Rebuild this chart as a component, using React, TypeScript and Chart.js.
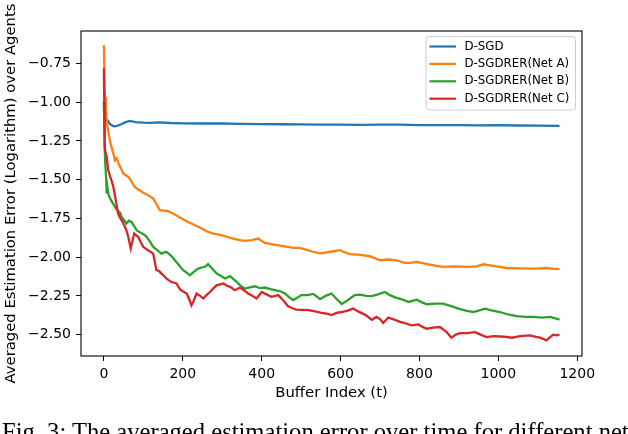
import { useEffect, useRef } from "react";
import { Chart, registerables } from "chart.js";

Chart.register(...registerables);

// Series names and colours (matplotlib tab10 palette)
const SERIES_LABELS = ["D-SGD", "D-SGDRER(Net A)", "D-SGDRER(Net B)", "D-SGDRER(Net C)"];
const SERIES_COLORS = ["#1f77b4", "#ff7f0e", "#2ca02c", "#d62728"];

// Axis ticks
const X_TICKS = [0, 200, 400, 600, 800, 1000, 1200];
const Y_TICKS = [-0.75, -1.0, -1.25, -1.5, -1.75, -2.0, -2.25, -2.5];

// [buffer index, averaged log estimation error]
const D_SGD: [number, number][] = [
  [0, -1.0], [3, -1.1], [6, -1.12], [10, -1.118], [15, -1.14], [22, -1.152], [28, -1.155],
  [36, -1.15], [45, -1.14], [55, -1.128], [66, -1.12], [80, -1.128], [100, -1.132], [117, -1.133],
  [140, -1.13], [170, -1.134], [200, -1.136], [250, -1.137], [300, -1.137], [350, -1.14],
  [400, -1.141], [450, -1.142], [500, -1.143], [550, -1.144], [600, -1.145], [650, -1.146],
  [700, -1.145], [750, -1.145], [800, -1.147], [850, -1.148], [900, -1.148], [950, -1.149],
  [1000, -1.148], [1050, -1.15], [1100, -1.151], [1155, -1.152],
];

const NET_A: [number, number][] = [
  [0, -0.632], [2, -0.9], [3, -0.966], [5, -1.06], [9, -1.159], [14, -1.23], [19, -1.288],
  [24, -1.33], [28, -1.374], [32, -1.361], [38, -1.4], [44, -1.43], [49, -1.46], [55, -1.47],
  [62, -1.482], [70, -1.51], [76, -1.54], [83, -1.557], [92, -1.57], [100, -1.585], [112, -1.6],
  [125, -1.622], [134, -1.66], [142, -1.697], [152, -1.7], [163, -1.703], [180, -1.725],
  [197, -1.75], [215, -1.775], [231, -1.794], [248, -1.815], [264, -1.837], [280, -1.85],
  [298, -1.858], [307, -1.865], [328, -1.88], [345, -1.89], [357, -1.895], [375, -1.89],
  [391, -1.88], [408, -1.908], [435, -1.92], [459, -1.93], [480, -1.94], [497, -1.94],
  [510, -1.95], [530, -1.965], [548, -1.976], [575, -1.965], [598, -1.955], [612, -1.97],
  [624, -1.98], [650, -1.985], [674, -1.994], [700, -2.02], [720, -2.015], [742, -2.02],
  [763, -2.037], [776, -2.037], [793, -2.03], [820, -2.045], [840, -2.055], [860, -2.063],
  [890, -2.06], [920, -2.063], [945, -2.06], [962, -2.046], [990, -2.058], [1021, -2.07],
  [1050, -2.072], [1089, -2.074], [1105, -2.072], [1122, -2.07], [1140, -2.075], [1155, -2.076],
];

const NET_B: [number, number][] = [
  [0, -1.0], [2, -1.3], [4, -1.417], [6, -1.5], [7, -1.589], [9, -1.55], [12, -1.6], [16, -1.622],
  [20, -1.64], [28, -1.676], [35, -1.7], [41, -1.714], [45, -1.74], [51, -1.76], [57, -1.783],
  [63, -1.765], [70, -1.773], [77, -1.8], [83, -1.826], [92, -1.84], [104, -1.858], [110, -1.875],
  [117, -1.9], [125, -1.934], [135, -1.955], [146, -1.977], [152, -1.97], [159, -1.966],
  [170, -1.99], [180, -2.02], [190, -2.05], [201, -2.084], [210, -2.1], [218, -2.117],
  [228, -2.095], [239, -2.074], [250, -2.065], [258, -2.06], [264, -2.045], [275, -2.075],
  [286, -2.106], [296, -2.12], [307, -2.138], [320, -2.123], [332, -2.149], [345, -2.18],
  [357, -2.203], [370, -2.195], [383, -2.188], [395, -2.2], [408, -2.196], [420, -2.205],
  [434, -2.213], [447, -2.22], [459, -2.235], [470, -2.26], [480, -2.277], [490, -2.262],
  [501, -2.245], [515, -2.245], [531, -2.237], [548, -2.271], [562, -2.25], [577, -2.235],
  [590, -2.27], [603, -2.302], [614, -2.285], [624, -2.267], [636, -2.245], [650, -2.242],
  [665, -2.25], [679, -2.252], [695, -2.24], [712, -2.225], [725, -2.245], [740, -2.261],
  [755, -2.272], [772, -2.289], [793, -2.274], [805, -2.29], [818, -2.304], [840, -2.3],
  [860, -2.3], [872, -2.31], [886, -2.321], [903, -2.335], [920, -2.347], [936, -2.354],
  [950, -2.345], [966, -2.332], [985, -2.345], [1004, -2.354], [1025, -2.37], [1046, -2.381],
  [1068, -2.385], [1089, -2.386], [1110, -2.39], [1131, -2.386], [1145, -2.395], [1155, -2.403],
];

const NET_C: [number, number][] = [
  [0, -0.78], [1, -1.0], [2, -1.25], [3, -1.31], [7, -1.35], [11, -1.439], [16, -1.48],
  [20, -1.51], [24, -1.546], [28, -1.6], [32, -1.66], [36, -1.718], [40, -1.74], [45, -1.762],
  [51, -1.79], [57, -1.826], [62, -1.87], [68, -1.944], [72, -1.9], [77, -1.847], [82, -1.86],
  [87, -1.869], [93, -1.9], [100, -1.934], [106, -1.945], [112, -1.955], [118, -1.965],
  [125, -1.977], [133, -2.084], [140, -2.09], [146, -2.106], [152, -2.12], [159, -2.138],
  [165, -2.15], [171, -2.16], [178, -2.165], [184, -2.17], [193, -2.209], [200, -2.22],
  [210, -2.235], [216, -2.27], [222, -2.311], [228, -2.28], [235, -2.235], [244, -2.25],
  [252, -2.267], [260, -2.245], [269, -2.225], [278, -2.2], [286, -2.182], [295, -2.175],
  [303, -2.17], [312, -2.185], [320, -2.192], [332, -2.213], [345, -2.196], [356, -2.215],
  [366, -2.235], [377, -2.25], [387, -2.267], [400, -2.225], [412, -2.24], [425, -2.256],
  [442, -2.245], [455, -2.28], [467, -2.317], [478, -2.33], [488, -2.338], [505, -2.34],
  [518, -2.342], [535, -2.35], [552, -2.359], [565, -2.365], [577, -2.374], [590, -2.36],
  [603, -2.354], [618, -2.345], [632, -2.332], [648, -2.355], [664, -2.374], [679, -2.405],
  [691, -2.386], [700, -2.4], [708, -2.425], [721, -2.39], [738, -2.405], [751, -2.418],
  [763, -2.425], [780, -2.44], [797, -2.434], [808, -2.45], [818, -2.462], [835, -2.455],
  [852, -2.451], [869, -2.484], [881, -2.52], [892, -2.5], [903, -2.49], [920, -2.49],
  [941, -2.484], [955, -2.5], [970, -2.516], [988, -2.51], [1004, -2.512], [1020, -2.515],
  [1034, -2.52], [1055, -2.51], [1080, -2.505], [1095, -2.515], [1106, -2.52], [1122, -2.537],
  [1132, -2.515], [1139, -2.5], [1148, -2.505], [1155, -2.5],
];

const SERIES = [D_SGD, NET_A, NET_B, NET_C];

const FONT_FAMILY = "'DejaVu Sans', sans-serif";
const CAPTION = "Fig. 3: The averaged estimation error over time for different network topologies.";

const formatY = (v: number) => v.toFixed(2).replace("-", "\u2212");

// Full box around the plotting area
const framePlugin = {
  id: "frame",
  afterDraw(chart: any) {
    const { ctx, chartArea: a } = chart;
    ctx.save();
    ctx.strokeStyle = "#000";
    ctx.lineWidth = 1.1;
    ctx.strokeRect(a.left, a.top, a.right - a.left, a.bottom - a.top);
    ctx.restore();
  },
};

// Boxed legend in the upper right corner
const boxLegendPlugin = {
  id: "boxLegend",
  afterDraw(chart: any) {
    const { ctx } = chart;
    const box = { x: 426, y: 36.5, w: 149.5, h: 73.5 };
    ctx.save();
    ctx.beginPath();
    ctx.roundRect(box.x, box.y, box.w, box.h, 3);
    ctx.fillStyle = "rgba(255,255,255,0.8)";
    ctx.fill();
    ctx.strokeStyle = "#cccccc";
    ctx.lineWidth = 1;
    ctx.stroke();
    ctx.font = `11.8px ${FONT_FAMILY}`;
    ctx.textBaseline = "middle";
    ctx.textAlign = "left";
    SERIES_LABELS.forEach((label, i) => {
      const y = 46.5 + i * 17.4;
      ctx.strokeStyle = SERIES_COLORS[i];
      ctx.lineWidth = 2.2;
      ctx.beginPath();
      ctx.moveTo(429.5, y);
      ctx.lineTo(456, y);
      ctx.stroke();
      ctx.fillStyle = "#000";
      ctx.fillText(label, 464.5, y);
    });
    ctx.restore();
  },
};

export default function App() {
  const canvasRef = useRef<HTMLCanvasElement | null>(null);

  useEffect(() => {
    const canvas = canvasRef.current;
    if (!canvas) return;
    const tickFont = { family: FONT_FAMILY, size: 14 };
    const titleFont = { family: FONT_FAMILY, size: 14.8 };

    const chart = new Chart(canvas, {
      type: "line",
      data: {
        datasets: SERIES.map((pts, i) => ({
          label: SERIES_LABELS[i],
          data: pts.map(([x, y]) => ({ x, y })),
          borderColor: SERIES_COLORS[i],
          backgroundColor: SERIES_COLORS[i],
          borderWidth: 2.3,
          pointRadius: 0,
          tension: 0,
          fill: false,
          order: SERIES.length - i,
        })),
      },
      options: {
        responsive: false,
        animation: false,
        devicePixelRatio: 1,
        layout: { padding: { left: 0, top: 31, right: 46, bottom: 0 } },
        plugins: {
          legend: { display: false },
          tooltip: { enabled: false },
        },
        scales: {
          x: {
            type: "linear",
            min: -58,
            max: 1212,
            afterBuildTicks: (scale: any) => {
              scale.ticks = X_TICKS.map((value) => ({ value }));
            },
            afterFit: (scale: any) => {
              scale.height = 78;
            },
            ticks: {
              font: tickFont,
              color: "#000",
              padding: 5,
              maxRotation: 0,
              autoSkip: false,
              callback: (v: any) => String(v),
            },
            grid: {
              drawOnChartArea: false,
              drawTicks: true,
              tickLength: 5,
              color: "#000",
              lineWidth: 1,
            },
            border: { display: false },
            title: {
              display: true,
              text: "Buffer Index (t)",
              font: titleFont,
              color: "#000",
              padding: { top: 0, bottom: 32 },
            },
          },
          y: {
            type: "linear",
            min: -2.638,
            max: -0.54,
            afterBuildTicks: (scale: any) => {
              scale.ticks = Y_TICKS.map((value) => ({ value }));
            },
            afterFit: (scale: any) => {
              scale.width = 81;
            },
            ticks: {
              font: tickFont,
              color: "#000",
              padding: 5,
              autoSkip: false,
              callback: (v: any) => formatY(Number(v)),
            },
            grid: {
              drawOnChartArea: false,
              drawTicks: true,
              tickLength: 5,
              color: "#000",
              lineWidth: 1,
            },
            border: { display: false },
            title: {
              display: true,
              text: "Averaged Estimation Error (Logarithm) over Agents",
              font: titleFont,
              color: "#000",
              padding: { top: 2, bottom: 0 },
            },
          },
        },
      },
      plugins: [framePlugin, boxLegendPlugin],
    });

    return () => chart.destroy();
  }, []);

  return (
    <div
      style={{
        position: "absolute",
        left: 0,
        top: 0,
        width: 628,
        height: 434,
        overflow: "hidden",
        background: "#fff",
      }}
    >
      <canvas
        ref={canvasRef}
        width={628}
        height={434}
        style={{ position: "absolute", left: 0, top: 0, width: 628, height: 434 }}
      />
      <div
        style={{
          position: "absolute",
          left: 2,
          top: 420,
          whiteSpace: "nowrap",
          fontFamily: "'Liberation Serif', 'Times New Roman', serif",
          fontSize: 24.6,
          lineHeight: "24px",
          color: "#000",
        }}
      >
        {CAPTION}
      </div>
    </div>
  );
}
